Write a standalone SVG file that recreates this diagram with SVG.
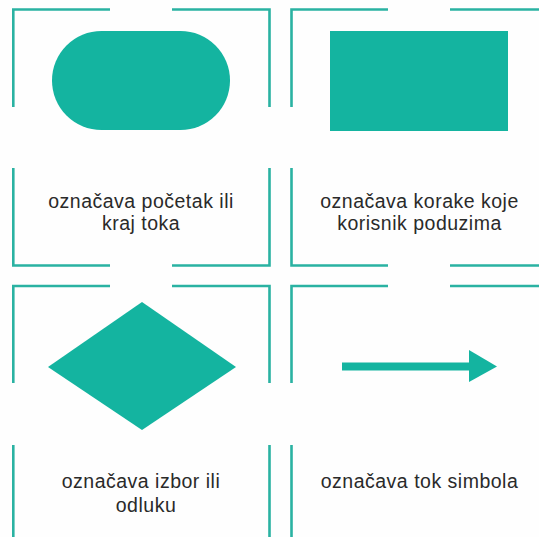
<svg xmlns="http://www.w3.org/2000/svg" width="539" height="537" viewBox="0 0 539 537">
<style>
.frame{fill:none;stroke:#2ab2a2;stroke-width:2.6;stroke-linecap:butt;stroke-linejoin:miter}
.shape{fill:#14b4a0}
.lbl{font-family:"Liberation Sans",Arial,sans-serif;font-size:19.5px;letter-spacing:0.5px;fill:#2a2a2a;text-anchor:middle}
</style>
<rect width="539" height="537" fill="#fefefe"/>
<g id="cell-terminal">
<path class="frame" d="M110 9.5H13.3V107M172 9.5H269.5V107M13.3 168V265.5H110M269.5 168V265.5H172"/>
<rect class="shape" x="52" y="31" width="178" height="99" rx="49.5" ry="49.5"/>
<text class="lbl" x="141" y="208">označava početak ili</text>
<text class="lbl" x="141" y="230">kraj toka</text>
</g>
<g id="cell-process">
<path class="frame" d="M388 9.5H291.5V107M450 9.5H545M291.5 168V265.5H388M450 265.5H545"/>
<rect class="shape" x="330" y="31" width="178" height="100"/>
<text class="lbl" x="419.5" y="208">označava korake koje</text>
<text class="lbl" x="419.5" y="230">korisnik poduzima</text>
</g>
<g id="cell-decision">
<path class="frame" d="M110 286H13.3V383M172 286H269.5V383M13.3 445V545M269.5 445V545"/>
<polygon class="shape" points="142,302 236,367 142,430 48,367"/>
<text class="lbl" x="141" y="488">označava izbor ili</text>
<text class="lbl" x="146" y="512">odluku</text>
</g>
<g id="cell-flow">
<path class="frame" d="M388 286H291.5V383M450 286H545M291.5 445V545"/>
<rect class="shape" x="342" y="362.5" width="130" height="8"/>
<polygon class="shape" points="469,350 497,366.5 469,382"/>
<text class="lbl" x="419.5" y="488">označava tok simbola</text>
</g>
</svg>
